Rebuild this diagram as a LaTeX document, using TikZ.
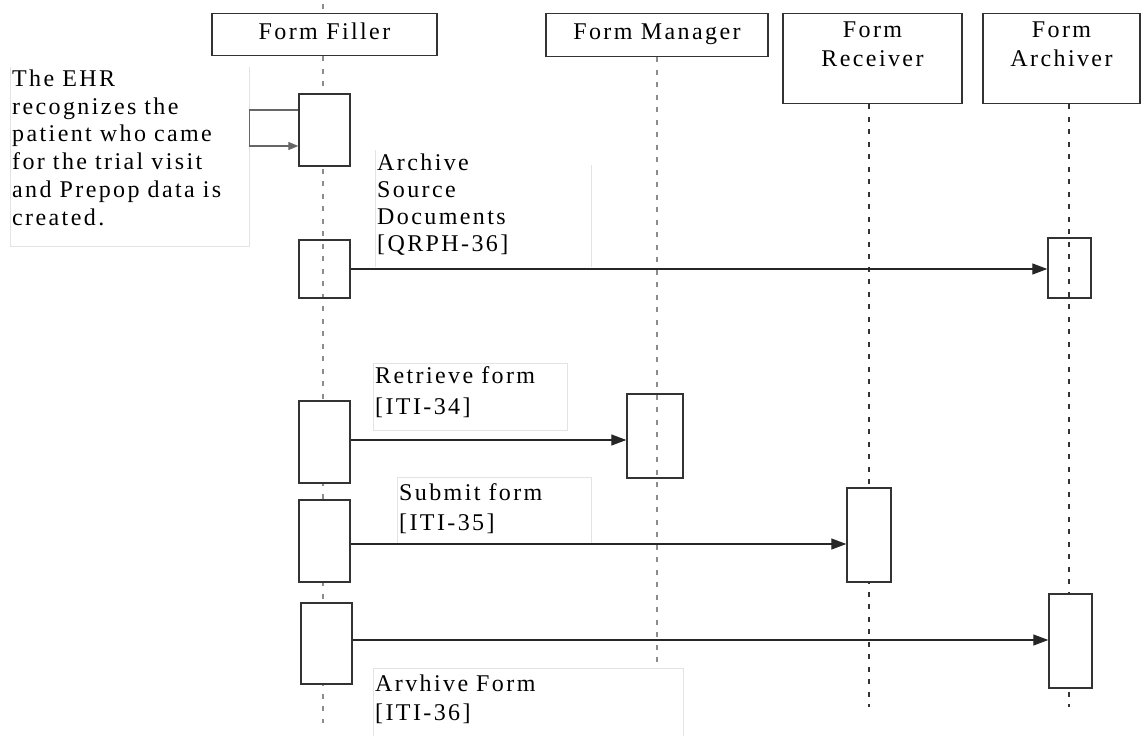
\documentclass[tikz,border=0pt]{standalone}
\usepackage{fontspec}
\newfontfamily\diagfont{Liberation Serif}[LetterSpace=10]
\usetikzlibrary{arrows.meta,positioning}

\begin{document}
\begin{tikzpicture}[x=1pt, y=-1pt,
  head/.style={draw=black!80, line width=1.3pt, fill=white, align=center, font=\diagfont\fontsize{24}{29}\selectfont, inner sep=2pt, anchor=north},
  life/.style={gray!90, line width=2.5pt, dash pattern=on 5pt off 7.5pt},
  act/.style={draw=black!80, line width=1.4pt, minimum width=51pt, inner sep=0pt},
  msg/.style={black!85, line width=1.3pt, -{Triangle[length=15pt,width=11pt]}},
  frame/.style={gray!22, line width=1pt},
  lbl/.style={align=left, font=\diagfont\fontsize{24}{30}\selectfont, inner sep=2pt, anchor=north west}]
\useasboundingbox (0,0) rectangle (1142,736);

% actors
\node[head, minimum width=225pt, minimum height=42pt, text depth=7pt] (ff) at (324.5,13) {Form Filler};
\node[head, minimum width=222pt, minimum height=43pt, text depth=7pt] (fm) at (657,13) {Form Manager};
\node[head, minimum width=179pt, minimum height=90pt] (fr) at (872.5,13) {Form\\Receiver\\\mbox{}};
\node[head, minimum width=157pt, minimum height=90pt] (fa) at (1061.5,13) {Form\\Archiver\\\mbox{}};

% lifelines
\coordinate (fftop) at (323,4);
\coordinate (ffend) at (323,723);
\coordinate (fmend) at (657,668);
\coordinate (frend) at (869,707);
\coordinate (faend) at (1069,707);
\draw[life] (fftop) -- (ff.north -| fftop);
\draw[life] (ff.south -| ffend) -- (ffend);
\draw[life] (fm.south -| fmend) -- (fmend);
\draw[life, black!80] (fr.south -| frend) -- (frend);
\draw[life, black!80] (fa.south -| faend) -- (faend);

% activations
\node[act, fill=white, minimum height=72pt] (a1) at (324.5,130) {};
\node[act, minimum height=58pt] (a2) at (324.5,269) {};
\node[act, minimum width=43pt, minimum height=60pt] (b2) at (1069.5,268) {};
\node[act, fill=white, minimum height=82pt] (a3) at (324.5,442) {};
\node[act, minimum width=56pt, minimum height=84pt] (m3) at (655,436) {};
\node[act, fill=white, minimum height=82pt] (a4) at (324.5,541) {};
\node[act, fill=white, minimum width=44pt, minimum height=94pt] (r4) at (869,535) {};
\node[act, fill=white, minimum height=81pt] (a5) at (326.5,643.5) {};
\node[act, fill=white, minimum width=43pt, minimum height=94pt] (b5) at (1070.5,641) {};

% notes and labels
\draw[frame] (10,67) -- (10,246) -- (249,246) -- (249,67);
\node[lbl, text width=235pt, font=\diagfont\fontsize{24}{27.8}\selectfont] (ehr) at (10,67.5)
  {The EHR\\recognizes the\\patient who came\\for the trial visit\\and Prepop data is\\created.};

\draw[frame] (375,150) -- (375,267);
\draw[frame] (591,165) -- (591,267);
\node[lbl, text width=212pt, font=\diagfont\fontsize{24}{27}\selectfont] (src) at (375,151.5)
  {Archive\\Source\\Documents\\{}[QRPH-36]};

\draw[frame] (373,363) rectangle (567,430);
\node[lbl, text width=190pt, font=\diagfont\fontsize{24}{31}\selectfont] (ret) at (373,364.5) {Retrieve form\\{}[ITI-34]};

\draw[frame] (397,477) rectangle (591,544);
\node[lbl, text width=190pt] (sub) at (397,481.5) {Submit form\\{}[ITI-35]};

\draw[frame] (373,736) -- (373,668) -- (683,668) -- (683,736);
\node[lbl, text width=306pt, font=\diagfont\fontsize{24}{29}\selectfont] (arv) at (373,672.5) {Arvhive Form\\{}[ITI-36]};

% messages
\draw[black!60, line width=1.3pt, -{Triangle[length=10pt,width=8pt]}]
  ([yshift=20pt]a1.west) -- ++(-49,0) |- ([yshift=-16pt]a1.west);
\draw[msg] (a2.east) -- (a2.east -| b2.west);
\draw[msg] ([yshift=2pt]a3.east) -- ([yshift=2pt]a3.east -| m3.west);
\draw[msg] ([yshift=-3pt]a4.east) -- ([yshift=-3pt]a4.east -| r4.west);
\draw[msg] ([yshift=3.5pt]a5.east) -- ([yshift=3.5pt]a5.east -| b5.west);
\end{tikzpicture}
\end{document}
